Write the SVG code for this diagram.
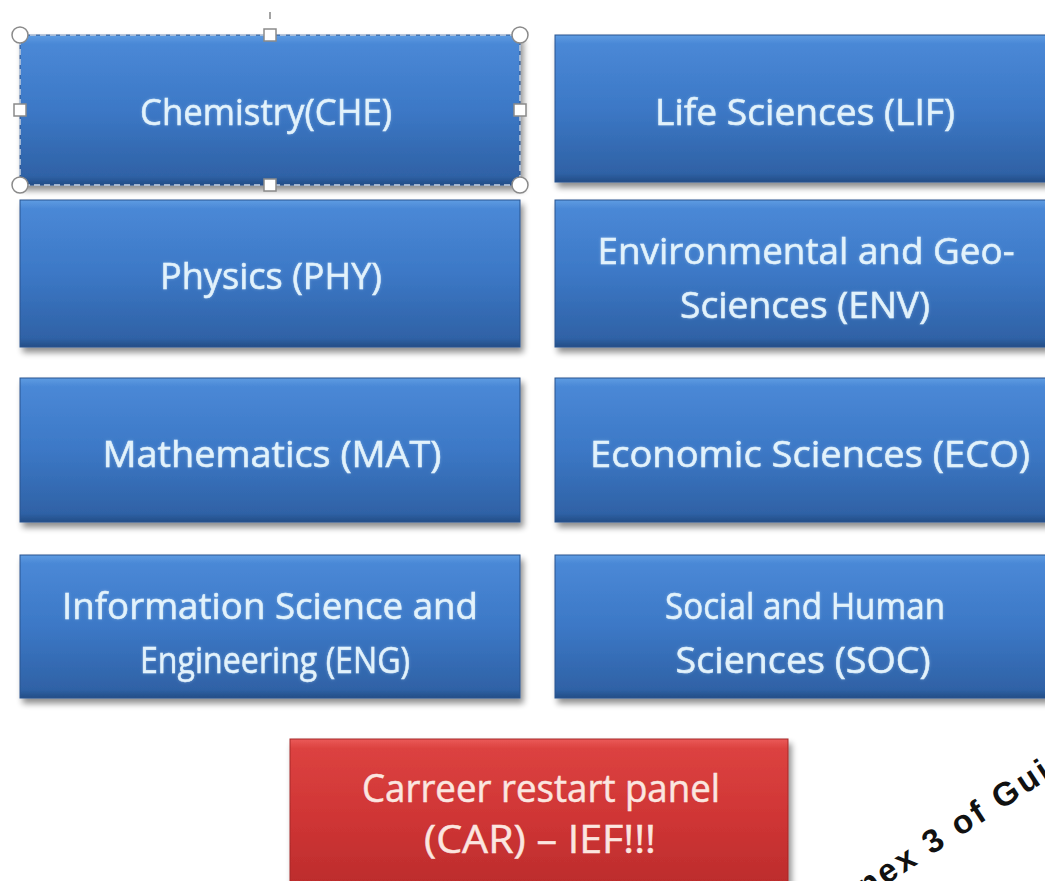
<svg xmlns="http://www.w3.org/2000/svg" width="1045" height="881" viewBox="0 0 1045 881">
<defs>
  <linearGradient id="gBlue" x1="0" y1="0" x2="0" y2="1">
    <stop offset="0" stop-color="#5e9ce2"/>
    <stop offset="0.06" stop-color="#4a88d6"/>
    <stop offset="0.5" stop-color="#3c78c6"/>
    <stop offset="0.94" stop-color="#2f62a6"/>
    <stop offset="1" stop-color="#234d86"/>
  </linearGradient>
  <linearGradient id="gRed" x1="0" y1="0" x2="0" y2="1">
    <stop offset="0" stop-color="#ea5a58"/>
    <stop offset="0.06" stop-color="#dc4240"/>
    <stop offset="0.5" stop-color="#cf3535"/>
    <stop offset="1" stop-color="#b82a2a"/>
  </linearGradient>
  <filter id="shadow" x="-5%" y="-10%" width="115%" height="130%">
    <feGaussianBlur in="SourceAlpha" stdDeviation="3"/>
    <feOffset dx="3" dy="5" result="b"/>
    <feComponentTransfer><feFuncA type="linear" slope="0.45"/></feComponentTransfer>
    <feMerge><feMergeNode/><feMergeNode in="SourceGraphic"/></feMerge>
  </filter>
  <filter id="glow" x="-5%" y="-20%" width="110%" height="140%">
    <feGaussianBlur in="SourceAlpha" stdDeviation="1.5" result="b"/>
    <feFlood flood-color="#cfe8ff" flood-opacity="0.35"/>
    <feComposite in2="b" operator="in"/>
    <feMerge><feMergeNode/><feMergeNode in="SourceGraphic"/></feMerge>
  </filter>
</defs>
<style>
  .box { filter: url(#shadow); }
  .blue { fill: url(#gBlue); stroke: #2a5590; stroke-width: 1; }
  .red { fill: url(#gRed); stroke: #a52828; stroke-width: 1; }
  .lbl { font-family: "Open Sans", "Noto Sans", sans-serif; font-size: 37px; text-anchor: middle; fill: #e2f2fb; stroke: #e2f2fb; stroke-width: 0.5; filter: url(#glow); }
  .lblr { font-family: "Open Sans", "Noto Sans", sans-serif; font-size: 38px; text-anchor: middle; fill: #fbe6e0; stroke: #fbe6e0; stroke-width: 0.5; }
  .hc { fill: #ffffff; stroke: #8a8a8a; stroke-width: 1.5; }
  .note { font-family: "Liberation Sans", Arial, sans-serif; font-weight: bold; font-size: 33px; fill: #111111; letter-spacing: 3px; }
</style>
<rect width="1045" height="881" fill="#ffffff"/>

<g id="node-che">
  <rect class="box blue" x="20" y="35" width="500" height="150"/>
  <text class="lbl" x="266" y="125" textLength="252" lengthAdjust="spacingAndGlyphs">Chemistry(CHE)</text>
</g>
<g id="node-lif">
  <rect class="box blue" x="555" y="35" width="500" height="147"/>
  <text class="lbl" x="805" y="125" textLength="300" lengthAdjust="spacingAndGlyphs">Life Sciences (LIF)</text>
</g>
<g id="node-phy">
  <rect class="box blue" x="20" y="200" width="500" height="147"/>
  <text class="lbl" x="271" y="289" textLength="222" lengthAdjust="spacingAndGlyphs">Physics (PHY)</text>
</g>
<g id="node-env">
  <rect class="box blue" x="555" y="200" width="500" height="147"/>
  <text class="lbl" x="806" y="264" textLength="417" lengthAdjust="spacingAndGlyphs">Environmental and Geo-</text>
  <text class="lbl" x="805" y="318" textLength="250" lengthAdjust="spacingAndGlyphs">Sciences (ENV)</text>
</g>
<g id="node-mat">
  <rect class="box blue" x="20" y="378" width="500" height="144"/>
  <text class="lbl" x="272" y="467" textLength="339" lengthAdjust="spacingAndGlyphs">Mathematics  (MAT)</text>
</g>
<g id="node-eco">
  <rect class="box blue" x="555" y="378" width="500" height="144"/>
  <text class="lbl" x="810" y="467" textLength="440" lengthAdjust="spacingAndGlyphs">Economic Sciences (ECO)</text>
</g>
<g id="node-eng">
  <rect class="box blue" x="20" y="555" width="500" height="143"/>
  <text class="lbl" x="270" y="619" textLength="416" lengthAdjust="spacingAndGlyphs">Information Science and</text>
  <text class="lbl" x="275" y="673" textLength="270" lengthAdjust="spacingAndGlyphs">Engineering (ENG)</text>
</g>
<g id="node-soc">
  <rect class="box blue" x="555" y="555" width="500" height="143"/>
  <text class="lbl" x="805" y="619" textLength="280" lengthAdjust="spacingAndGlyphs">Social and Human</text>
  <text class="lbl" x="803" y="673" textLength="255" lengthAdjust="spacingAndGlyphs">Sciences (SOC)</text>
</g>
<g id="node-car">
  <rect class="box red" x="290" y="739" width="498" height="160"/>
  <text class="lblr" x="541" y="802" textLength="358" lengthAdjust="spacingAndGlyphs">Carreer restart panel</text>
  <text class="lblr" x="540" y="853" textLength="232" lengthAdjust="spacingAndGlyphs">(CAR) – IEF!!!</text>
</g>

<g id="selection">
  <rect x="20" y="35" width="500" height="150" fill="none" stroke="#c8d4e4" stroke-width="1.5" stroke-dasharray="6 4"/>
  <line x1="270" y1="12" x2="270" y2="19" stroke="#666" stroke-width="1.2"/>
  <circle class="hc" cx="20" cy="35" r="8"/>
  <circle class="hc" cx="520" cy="35" r="8"/>
  <circle class="hc" cx="20" cy="185" r="8"/>
  <circle class="hc" cx="520" cy="185" r="8"/>
  <rect class="hc" x="264" y="29" width="12" height="12"/>
  <rect class="hc" x="264" y="179" width="12" height="12"/>
  <rect class="hc" x="14" y="104" width="12" height="12"/>
  <rect class="hc" x="514" y="104" width="12" height="12"/>
</g>

<g id="connectors"></g>

<text class="note" transform="translate(824,925) rotate(-33)">Annex 3 of Guide</text>
</svg>
